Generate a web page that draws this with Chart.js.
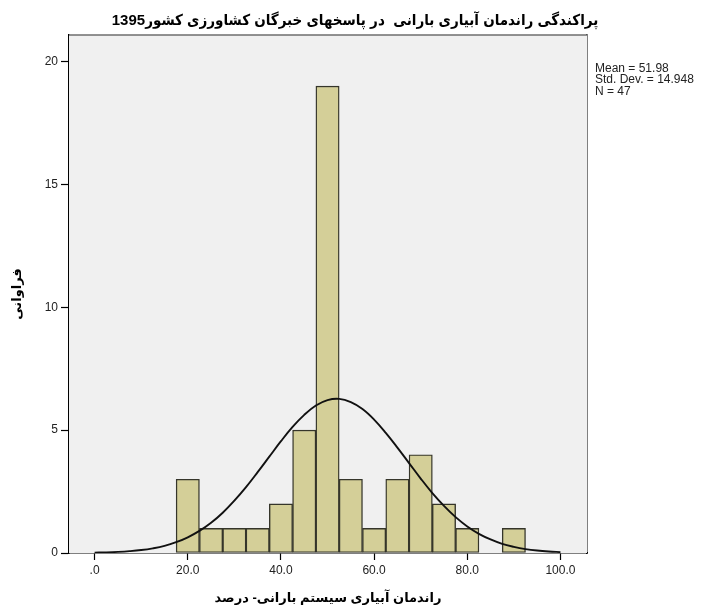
<!DOCTYPE html>
<html>
<head>
<meta charset="utf-8">
<script src="https://cdn.jsdelivr.net/npm/chart.js@4/dist/chart.umd.min.js"></script>
<style>
html,body{margin:0;padding:0;background:#fff;}
#wrap{width:710px;height:612px;position:relative;}
</style>
</head>
<body>
<div id="wrap"><canvas id="c"></canvas></div>
<script>
// ---- data ----
const binCenters = [20, 25, 30, 35, 40, 45, 50, 55, 60, 65, 70, 75, 80, 85, 90];
const binCounts  = [3, 1, 1, 1, 2, 5, 19, 3, 1, 3, 4, 2, 1, 0, 1];
const curveX = [0, 2.5, 5, 7.5, 10, 12.5, 15, 17.5, 20, 22.5, 25, 27.5, 30, 32.5, 35, 37.5, 40, 42.5, 45, 47.5, 50, 52.5, 55, 57.5, 60, 62.5, 65, 67.5, 70, 72.5, 75, 77.5, 80, 82.5, 85, 87.5, 90, 92.5, 95, 97.5, 100];
const curveY = [0.015, 0.026, 0.045, 0.075, 0.12, 0.19, 0.29, 0.44, 0.64, 0.90, 1.23, 1.64, 2.13, 2.68, 3.29, 3.92, 4.55, 5.13, 5.62, 6.00, 6.22, 6.27, 6.14, 5.86, 5.43, 4.89, 4.29, 3.66, 3.03, 2.44, 1.92, 1.46, 1.08, 0.78, 0.55, 0.37, 0.25, 0.16, 0.10, 0.061, 0.036];
const xTickValues = [0, 20, 40, 60, 80, 100];
const xTickLabels = ['.0', '20.0', '40.0', '60.0', '80.0', '100.0'];
const yTickValues = [0, 5, 10, 15, 20];
const yTickLabels = ['0', '5', '10', '15', '20'];
const chartTitle = 'پراکندگی راندمان آبیاری بارانی  در پاسخهای خبرگان کشاورزی کشور1395';
const xAxisTitle = 'راندمان آبیاری سیستم بارانی- درصد';
const yAxisTitle = 'فراوانی';
const statsLines = ['Mean = 51.98', 'Std. Dev. = 14.948', 'N = 47'];

const FONT = '"Liberation Sans", Arial, "DejaVu Sans", sans-serif';
const TITLE_FONT = '"Liberation Sans", Arial, "DejaVu Sans Condensed", "DejaVu Sans", sans-serif';

const areaPlugin = {
  id: 'area',
  beforeDatasetsDraw(chart) {
    const a = chart.chartArea, ctx = chart.ctx;
    ctx.save();
    ctx.fillStyle = '#f0f0f0';
    ctx.fillRect(a.left, a.top, a.right - a.left, a.bottom - a.top);
    ctx.restore();
  },
  afterDraw(chart) {
    const a = chart.chartArea, ctx = chart.ctx;
    ctx.save();
    ctx.strokeStyle = '#6e6e6e';
    ctx.lineWidth = 1.5;
    ctx.beginPath();
    ctx.moveTo(a.left, a.top);
    ctx.lineTo(a.right, a.top);
    ctx.stroke();
    ctx.fillStyle = '#222';
    ctx.font = '12px ' + FONT;
    ctx.textBaseline = 'middle';
    ctx.textAlign = 'left';
    statsLines.forEach((s, i) => ctx.fillText(s, a.right + 8, 68.5 + i * 11.5));
    ctx.restore();
  }
};

new Chart(document.getElementById('c'), {
  type: 'bar',
  data: {
    datasets: [
      {
        type: 'line',
        data: curveX.map((x, i) => ({x: x, y: curveY[i]})),
        borderColor: '#111',
        borderWidth: 1.9,
        pointRadius: 0,
        tension: 0.4,
        fill: false,
        order: 0
      },
      {
        type: 'bar',
        data: binCenters.map((x, i) => ({x: x, y: binCounts[i]})),
        backgroundColor: '#d4cf98',
        borderColor: '#35352a',
        borderWidth: 1.4,
        borderSkipped: false,
        barPercentage: 1,
        categoryPercentage: 1,
        order: 1
      }
    ]
  },
  options: {
    responsive: true,
    maintainAspectRatio: false,
    animation: false,
    layout: {padding: 0},
    plugins: {
      legend: {display: false},
      tooltip: {enabled: false},
      title: {
        display: true,
        text: chartTitle,
        color: '#000',
        font: {family: TITLE_FONT, size: 15, weight: 'bold'},
        padding: {top: 12, bottom: 5}
      }
    },
    scales: {
      x: {
        type: 'linear',
        min: -5.5,
        max: 105.7,
        offset: false,
        afterBuildTicks(scale) { scale.ticks = xTickValues.map(v => ({value: v})); },
        afterFit(scale) { scale.height = 59; },
        ticks: {
          color: '#222',
          font: {family: FONT, size: 12},
          padding: 3,
          maxRotation: 0,
          autoSkip: false,
          callback(v) { const i = xTickValues.indexOf(v); return i >= 0 ? xTickLabels[i] : ''; }
        },
        grid: {drawOnChartArea: false, drawTicks: true, tickLength: 7, tickColor: '#000', tickWidth: 1.2, offset: false},
        border: {display: true, color: '#000', width: 1.5},
        title: {
          display: true,
          text: xAxisTitle,
          color: '#000',
          font: {family: FONT, size: 13, weight: 'bold'},
          padding: {top: 0, bottom: 6}
        }
      },
      y: {
        type: 'linear',
        position: 'left',
        min: 0,
        max: 21.08,
        afterBuildTicks(scale) { scale.ticks = yTickValues.map(v => ({value: v})); },
        afterFit(scale) { scale.width = 69; },
        ticks: {
          color: '#222',
          font: {family: FONT, size: 12},
          padding: 3,
          autoSkip: false,
          callback(v) { const i = yTickValues.indexOf(v); return i >= 0 ? yTickLabels[i] : ''; }
        },
        grid: {drawOnChartArea: false, drawTicks: true, tickLength: 8, tickColor: '#000', tickWidth: 1.2},
        border: {display: true, color: '#000', width: 1.5},
        title: {
          display: true,
          text: yAxisTitle,
          color: '#000',
          font: {family: FONT, size: 13, weight: 'bold'},
          padding: {top: 10, bottom: 0}
        }
      },
      yRight: {
        type: 'linear',
        position: 'right',
        min: 0,
        max: 1,
        afterFit(scale) { scale.width = 123; },
        ticks: {display: false},
        grid: {display: false, drawTicks: false},
        border: {display: true, color: '#000', width: 1.5}
      }
    }
  },
  plugins: [areaPlugin]
});
</script>
</body>
</html>
